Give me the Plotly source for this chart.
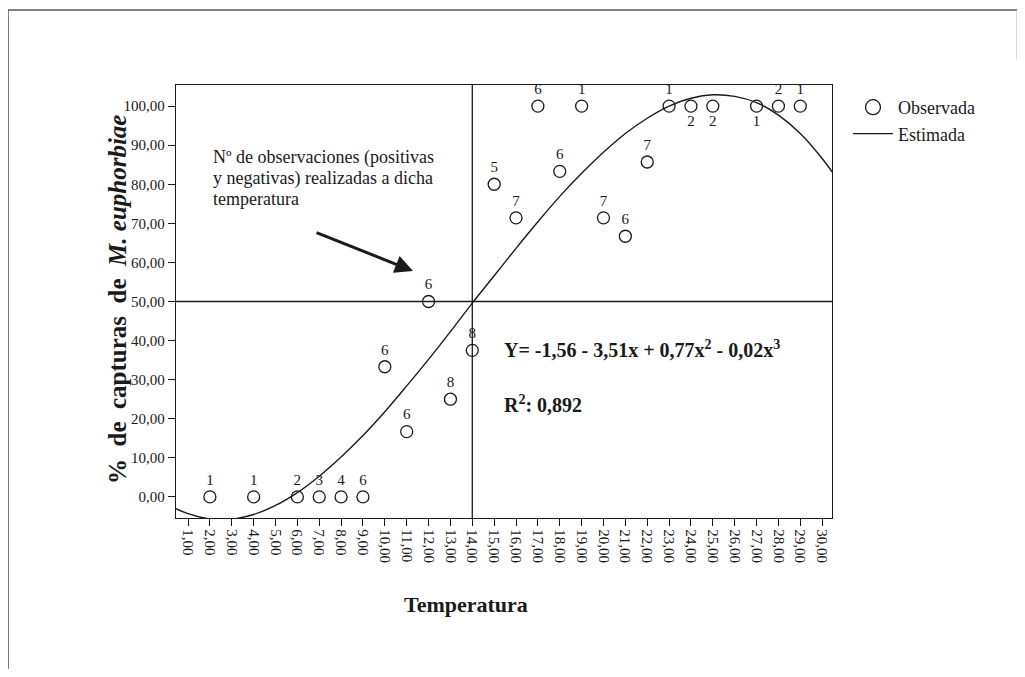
import plotly.graph_objects as go

# Observed data: temperature, % captures, number of observations
temp_obs = [2, 4, 6, 7, 8, 9, 10, 11, 12, 13, 14, 15, 16, 17, 18, 19, 20, 21, 22, 23, 24, 25, 27, 28, 29]
pct_obs = [0, 0, 0, 0, 0, 0, 33.3, 16.7, 50, 25, 37.5, 80, 71.4, 100, 83.3, 100, 71.4, 66.7, 85.7, 100, 100, 100, 100, 100, 100]
n_obs = ["1", "1", "2", "3", "4", "6", "6", "6", "6", "8", "8", "5", "7", "6", "6", "1", "7", "6", "7", "1", "2", "2", "1", "2", "1"]
label_pos = ["top center"] * 20 + ["bottom center", "bottom center", "bottom center", "top center", "top center"]

# Estimated curve
temp_est = [0.45, 1, 2, 3, 4, 5, 6, 7, 8, 9, 10, 11, 12, 13, 14, 15, 16, 17, 18, 19, 20,
            21, 22, 23, 24, 25, 26, 27, 28, 29, 30, 30.45]
pct_est = [-3.0, -4.3, -5.65, -5.7, -4.5, -2.2, 1.1, 5.3, 10.2, 15.7, 21.8, 28.4, 35.2, 42.3, 49.6,
           56.6, 63.6, 70.4, 76.9, 82.8, 88.2, 93.0, 96.9, 100.0, 102.0, 102.9, 102.5, 100.9,
           97.7, 93.0, 86.6, 83.2]

x_ticks = list(range(1, 31))
x_ticktext = [f"{v},00" for v in x_ticks]
y_ticks = [0, 10, 20, 30, 40, 50, 60, 70, 80, 90, 100]
y_ticktext = [f"{v},00" for v in y_ticks]

FONT = "Liberation Serif"
INK = "#1a1a1a"

# page body has an 8px margin: figure coords = reference coords - 8
OFF = 8
L, R, T, B = 176, 832, 85, 518          # plot area in reference pixels
W, H = 1025 - 2 * OFF, 677 - 2 * OFF
pw, ph = R - L, B - T


def px(xp):
    return (xp - L) / pw


def py(yp):
    return (B - yp) / ph


fig = go.Figure()

fig.add_trace(go.Scatter(
    x=temp_obs, y=pct_obs, mode="markers+text", text=n_obs, textposition=label_pos,
    textfont=dict(family=FONT, size=15, color=INK),
    marker=dict(symbol="circle-open", size=12, color=INK, line=dict(width=1.3, color=INK)),
    showlegend=False, cliponaxis=False,
))
fig.add_trace(go.Scatter(
    x=[None], y=[None], mode="markers", name="Observada",
    marker=dict(symbol="circle-open", size=15, color=INK, line=dict(width=1.3, color=INK)),
))
fig.add_trace(go.Scatter(
    x=temp_est, y=pct_est, mode="lines", name="Estimada", line_shape="spline",
    line=dict(color=INK, width=1.4),
))

SP = "&nbsp;"
ytitle = f"<b>%{SP} de {SP}capturas{SP} de {SP}<i>M. euphorbiae</i></b>"

annotations = [
    dict(text=ytitle, xref="paper", yref="paper",
         x=px(117), y=py(300), textangle=-90, showarrow=False,
         font=dict(family=FONT, size=25, color=INK), xanchor="center", yanchor="middle"),
    dict(text="<b>Temperatura</b>", xref="paper", yref="paper", x=px(466), y=py(604),
         showarrow=False, font=dict(family=FONT, size=22, color=INK),
         xanchor="center", yanchor="middle"),
    dict(text="Nº de observaciones (positivas", xref="paper", yref="paper", x=px(211), y=py(157),
         showarrow=False, font=dict(family=FONT, size=18, color=INK), xanchor="left", yanchor="middle"),
    dict(text="y negativas) realizadas a dicha", xref="paper", yref="paper", x=px(211), y=py(178),
         showarrow=False, font=dict(family=FONT, size=18, color=INK), xanchor="left", yanchor="middle"),
    dict(text="temperatura", xref="paper", yref="paper", x=px(211), y=py(199),
         showarrow=False, font=dict(family=FONT, size=18, color=INK), xanchor="left", yanchor="middle"),
    dict(text="<b>Y= -1,56 - 3,51x + 0,77x<sup>2</sup> - 0,02x<sup>3</sup></b>",
         xref="paper", yref="paper", x=px(502), y=py(349), showarrow=False,
         font=dict(family=FONT, size=20, color=INK), xanchor="left", yanchor="middle"),
    dict(text="<b>R<sup>2</sup>: 0,892</b>", xref="paper", yref="paper", x=px(502), y=py(404),
         showarrow=False, font=dict(family=FONT, size=20, color=INK),
         xanchor="left", yanchor="middle"),
    dict(text="", xref="paper", yref="paper", x=px(413), y=py(271),
         axref="pixel", ayref="pixel", ax=-98, ay=-39,
         showarrow=True, arrowhead=2, arrowsize=1.2, arrowwidth=3, arrowcolor=INK, standoff=0),
]

shapes = [
    dict(type="line", xref="x", yref="paper", x0=14, x1=14, y0=0, y1=1,
         line=dict(color=INK, width=1.3)),
    dict(type="line", xref="paper", yref="y", x0=0, x1=1, y0=50, y1=50,
         line=dict(color=INK, width=1.3)),
    dict(type="line", xref="paper", yref="paper", x0=px(8), x1=px(1017), y0=py(10), y1=py(10),
         line=dict(color="#555555", width=1.5)),
    dict(type="line", xref="paper", yref="paper", x0=px(8), x1=px(8), y0=py(10), y1=py(677),
         line=dict(color="#555555", width=1.5)),
    dict(type="line", xref="paper", yref="paper", x0=px(1017), x1=px(1017), y0=py(10), y1=py(60),
         line=dict(color="#bbbbbb", width=1)),
]

fig.update_layout(
    width=W, height=H,
    margin=dict(l=L - OFF, r=(1025 - OFF) - R, t=T - OFF, b=(677 - OFF) - B, autoexpand=False),
    paper_bgcolor="white", plot_bgcolor="white",
    font=dict(family=FONT, size=15, color=INK),
    annotations=annotations,
    shapes=shapes,
    legend=dict(x=px(848), y=py(89), xanchor="left", yanchor="top",
                font=dict(family=FONT, size=18, color=INK), bgcolor="rgba(0,0,0,0)",
                tracegroupgap=0, itemwidth=40),
    xaxis=dict(range=[0.45, 30.45], tickvals=x_ticks, ticktext=x_ticktext, tickangle=90,
               showgrid=False, zeroline=False, showline=True, mirror=True, linecolor=INK,
               linewidth=1.3, ticks="outside", ticklen=7, tickcolor=INK,
               tickfont=dict(family=FONT, size=15, color=INK)),
    yaxis=dict(range=[-5.4, 105.4], tickvals=y_ticks, ticktext=y_ticktext,
               showgrid=False, zeroline=False, showline=True, mirror=True, linecolor=INK,
               linewidth=1.3, ticks="outside", ticklen=7, tickcolor=INK,
               tickfont=dict(family=FONT, size=15, color=INK)),
)

fig.write_html("out.html")
